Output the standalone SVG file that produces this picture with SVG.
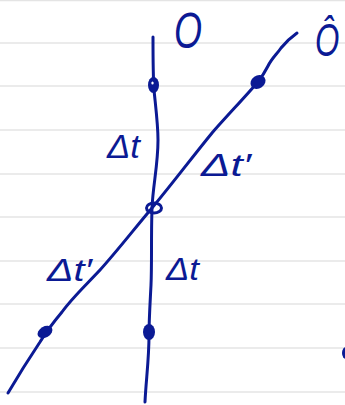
<svg xmlns="http://www.w3.org/2000/svg" width="345" height="405" viewBox="0 0 345 405">
<style>
.rule{stroke:#e4e4e4;stroke-width:1.6}
.ink{fill:none;stroke:#0b1a94;stroke-width:3;stroke-linecap:round;stroke-linejoin:round}
.dot{fill:#0b1a94}
.lbl{font-family:"Liberation Sans",Arial,sans-serif;fill:#0b1a94;font-style:italic}
</style>
<rect width="345" height="405" fill="#ffffff"/>
<g id="paper">
<line class="rule" x1="0" y1="0.5" x2="345" y2="0.5"/>
<line class="rule" x1="0" y1="43" x2="345" y2="43"/>
<line class="rule" x1="0" y1="86" x2="345" y2="86"/>
<line class="rule" x1="0" y1="130" x2="345" y2="130"/>
<line class="rule" x1="0" y1="174" x2="345" y2="174"/>
<line class="rule" x1="0" y1="217" x2="345" y2="217"/>
<line class="rule" x1="0" y1="261" x2="345" y2="261"/>
<line class="rule" x1="0" y1="304" x2="345" y2="304"/>
<line class="rule" x1="0" y1="348" x2="345" y2="348"/>
<line class="rule" x1="0" y1="392" x2="345" y2="392"/>
</g>
<g id="connectors">
<path class="ink" d="M153,37 C153,60 153,75 154,90 C156,110 158,125 158,140 C158,165 153,185 152,208 C151,240 152,262 151,285 C150,305 149,320 149,335 C149,360 146,380 145,402"/>
<path class="ink" d="M297,33 C290,38 285,43 281,48 C277,54 272,58 268,66 C265,72 261,78 257,83 C245,97 225,118 212,133 C190,160 172,184 152,208 C135,228 118,250 100,270 C85,286 72,298 62,312 C52,324 46,332 40,342 C28,360 18,376 8,393"/>
</g>
<g id="events">
<ellipse class="dot" cx="153.5" cy="85" rx="5.5" ry="8"/>
<ellipse cx="152.5" cy="83" rx="1.2" ry="1.5" fill="#ffffff"/>
<ellipse class="dot" cx="258" cy="82" rx="8" ry="6.5" transform="rotate(-35 258 82)"/>
<ellipse cx="154" cy="208" rx="7.5" ry="5" fill="none" stroke="#0b1a94" stroke-width="3"/>
<ellipse class="dot" cx="149" cy="332" rx="6" ry="8"/>
<ellipse class="dot" cx="45" cy="332" rx="8" ry="5.5" transform="rotate(-30 45 332)"/>
<ellipse class="dot" cx="346" cy="353" rx="4" ry="6"/>
</g>
<g id="labels">
<text class="lbl" x="174" y="48" font-size="50" textLength="28" lengthAdjust="spacingAndGlyphs">O</text>
<text class="lbl" transform="translate(315,56) scale(0.68,1)" x="0" y="0" font-size="46" font-style="normal">Ô</text>
<text class="lbl" x="107" y="158" font-size="33" textLength="33" lengthAdjust="spacingAndGlyphs">Δt</text>
<text class="lbl" x="201" y="176" font-size="31" textLength="50" lengthAdjust="spacingAndGlyphs">Δt′</text>
<text class="lbl" x="47" y="281" font-size="31" textLength="45" lengthAdjust="spacingAndGlyphs">Δt′</text>
<text class="lbl" x="166" y="280" font-size="32" textLength="33" lengthAdjust="spacingAndGlyphs">Δt</text>
</g>
</svg>
